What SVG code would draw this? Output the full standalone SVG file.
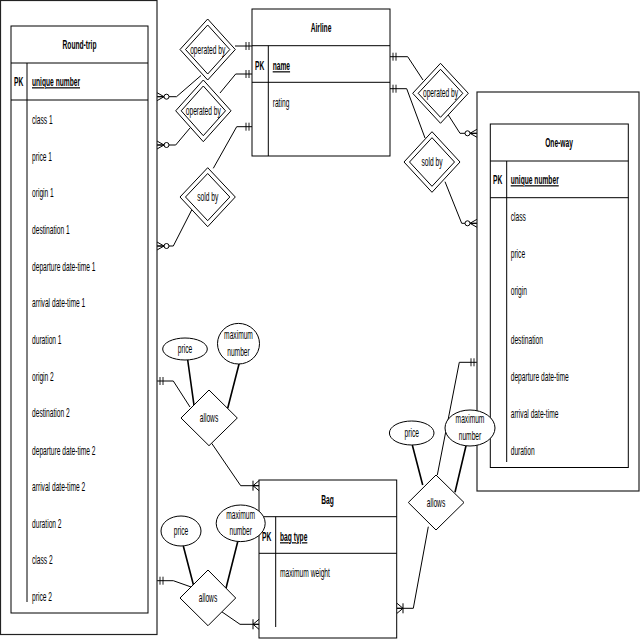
<svg xmlns="http://www.w3.org/2000/svg" width="640" height="640" viewBox="0 0 640 640">
<style>
.box{fill:none;stroke:#000;stroke-width:1}
.outer{fill:none;stroke:#222;stroke-width:1.2}
.ln{fill:none;stroke:#000;stroke-width:1}
.att{fill:none;stroke:#000;stroke-width:1.6}
.dia{fill:#fff;stroke:#000;stroke-width:1}
.ell{fill:#fff;stroke:#000;stroke-width:1}
text{font-family:"Liberation Sans",Arial,sans-serif;font-size:12px;fill:#000}
.b{font-weight:bold}
.u{font-weight:bold;text-decoration:underline}
.m{text-anchor:middle}
</style>
<defs>
<marker id="mandOne" markerUnits="userSpaceOnUse" markerWidth="22" markerHeight="14" refX="20" refY="7" orient="auto" overflow="visible">
<path d="M14,3V11M17,3V11" fill="none" stroke="#000" stroke-width="0.9"/>
</marker>
<marker id="zeroMany" markerUnits="userSpaceOnUse" markerWidth="22" markerHeight="14" refX="20" refY="7" orient="auto" overflow="visible">
<path d="M13,7H20M20,3L13,7L20,11" fill="none" stroke="#000" stroke-width="1"/>
<circle cx="10.5" cy="7" r="2.5" fill="#fff" stroke="#000" stroke-width="1"/>
</marker>
<marker id="oneMany" markerUnits="userSpaceOnUse" markerWidth="22" markerHeight="14" refX="20" refY="7" orient="auto" overflow="visible">
<path d="M14,2V12M14,7L20,2M14,7L20,12M14,7H20" fill="none" stroke="#000" stroke-width="1"/>
</marker>
</defs>
<rect width="640" height="640" fill="#fff"/>

<g id="connectors">
<path class="ln" d="M201,75.5L176.5,96.7H157" marker-end="url(#zeroMany)"/>
<path class="ln" d="M235,46H252" marker-end="url(#mandOne)"/>
<path class="ln" d="M190,128L175.7,145H157" marker-end="url(#zeroMany)"/>
<path class="ln" d="M220,93L235.7,74H252" marker-end="url(#mandOne)"/>
<path class="ln" d="M191.7,210L173.3,246H157" marker-end="url(#zeroMany)"/>
<path class="ln" d="M213.3,168.3L236.7,126.7H252" marker-end="url(#mandOne)"/>
<path class="ln" d="M423,80L407.7,56.7H390" marker-end="url(#mandOne)"/>
<path class="ln" d="M448.3,115L460,133.3H477" marker-end="url(#zeroMany)"/>
<path class="ln" d="M425,138L406.7,88.7H390" marker-end="url(#mandOne)"/>
<path class="ln" d="M445,181.7L461.7,223.3H477" marker-end="url(#zeroMany)"/>
<path class="ln" d="M190,407L173.3,381H157" marker-end="url(#mandOne)"/>
<path class="ln" d="M211.7,443.3L240.7,485.7H259" marker-end="url(#oneMany)"/>
<path class="ln" d="M194,588L173.3,580.7H157" marker-end="url(#mandOne)"/>
<path class="ln" d="M221.7,611.7L240,624.3H259" marker-end="url(#oneMany)"/>
<path class="ln" d="M437.3,475L459.3,362.3H477" marker-end="url(#mandOne)"/>
<path class="ln" d="M428.3,526.7L413.3,608.3H397" marker-end="url(#oneMany)"/>
<path class="att" d="M187.7,360L194.3,407.3M239.3,363L227.7,408.3"/>
<path class="att" d="M183.3,546L194.3,588.3M237.7,541.7L226,588.3"/>
<path class="att" d="M412.3,445L422.7,485M466,445.7L455,492.3"/>
</g>

<g id="round-trip">
<rect class="outer" x="0.5" y="0.5" width="156.5" height="634"/>
<rect class="box" x="11" y="26" width="137" height="587"/>
<path class="box" d="M11,63H148M11,100H148M27,63V602"/>
<text class="b m" transform="translate(79.5 49) scale(.555 1)">Round-trip</text>
<text class="b" transform="translate(14 86) scale(.555 1)">PK</text>
<text class="u" transform="translate(32 86) scale(.555 1)">unique number</text>
<text transform="translate(32 124) scale(.555 1)">class 1</text>
<text transform="translate(32 160.5) scale(.555 1)">price 1</text>
<text transform="translate(32 197) scale(.555 1)">origin 1</text>
<text transform="translate(32 234) scale(.555 1)">destination 1</text>
<text transform="translate(32 271) scale(.555 1)">departure date-time 1</text>
<text transform="translate(32 307) scale(.555 1)">arrival date-time 1</text>
<text transform="translate(32 344) scale(.555 1)">duration 1</text>
<text transform="translate(32 381) scale(.555 1)">origin 2</text>
<text transform="translate(32 417) scale(.555 1)">destination 2</text>
<text transform="translate(32 454.5) scale(.555 1)">departure date-time 2</text>
<text transform="translate(32 491) scale(.555 1)">arrival date-time 2</text>
<text transform="translate(32 527.5) scale(.555 1)">duration 2</text>
<text transform="translate(32 564) scale(.555 1)">class 2</text>
<text transform="translate(32 601) scale(.555 1)">price 2</text>
</g>

<g id="airline">
<rect class="box" x="252" y="9" width="138" height="147"/>
<path class="box" d="M252,45.7H390M252,82.3H390M268.3,45.7V156"/>
<text class="b m" transform="translate(321 32) scale(.555 1)">Airline</text>
<text class="b" transform="translate(255 70) scale(.555 1)">PK</text>
<text class="u" transform="translate(272.7 70) scale(.555 1)">name</text>
<text transform="translate(272.7 107) scale(.555 1)">rating</text>
</g>

<g id="one-way">
<rect class="outer" x="477" y="92" width="162" height="399"/>
<rect class="box" x="490.3" y="124" width="138" height="343.5"/>
<path class="box" d="M490.3,161H628.3M490.3,197.7H628.3M506.7,161V462"/>
<text class="b m" transform="translate(559 147) scale(.555 1)">One-way</text>
<text class="b" transform="translate(493 184) scale(.555 1)">PK</text>
<text class="u" transform="translate(510.7 184) scale(.555 1)">unique number</text>
<text transform="translate(510.7 221) scale(.555 1)">class</text>
<text transform="translate(510.7 257.5) scale(.555 1)">price</text>
<text transform="translate(510.7 295) scale(.555 1)">origin</text>
<text transform="translate(510.7 344) scale(.555 1)">destination</text>
<text transform="translate(510.7 381) scale(.555 1)">departure date-time</text>
<text transform="translate(510.7 418) scale(.555 1)">arrival date-time</text>
<text transform="translate(510.7 455) scale(.555 1)">duration</text>
</g>

<g id="bag">
<rect class="box" x="259" y="480" width="137.7" height="158"/>
<path class="box" d="M259,516.7H396.7M259,553.3H396.7M275.7,516.7V627"/>
<text class="b m" transform="translate(327.5 504) scale(.555 1)">Bag</text>
<text class="b" transform="translate(262 541) scale(.555 1)">PK</text>
<text class="u" transform="translate(280 541) scale(.555 1)">bag type</text>
<text transform="translate(280 577) scale(.555 1)">maximum weight</text>
</g>

<g id="operated-by-1">
<polygon class="dia" points="180,49.5 207.7,19 235.3,49.5 207.7,80"/>
<polygon class="dia" points="185.5,49.5 207.7,25 229.8,49.5 207.7,74"/>
<text class="m" transform="translate(207.7 53.5) scale(.555 1)">operated by</text>
</g>
<g id="operated-by-2">
<polygon class="dia" points="175.7,110.8 203.3,80 231,110.8 203.3,141.7"/>
<polygon class="dia" points="181.2,110.8 203.3,86 225.5,110.8 203.3,135.7"/>
<text class="m" transform="translate(203.3 114.8) scale(.555 1)">operated by</text>
</g>
<g id="sold-by-1">
<polygon class="dia" points="180,197 207.7,167.7 235.3,197 207.7,226.7"/>
<polygon class="dia" points="185.5,197 207.7,173.5 229.8,197 207.7,220.7"/>
<text class="m" transform="translate(207.7 201) scale(.555 1)">sold by</text>
</g>
<g id="operated-by-3">
<polygon class="dia" points="412.7,93.3 440.5,63.3 468.3,93.3 440.5,123.3"/>
<polygon class="dia" points="418.2,93.3 440.5,69.3 462.8,93.3 440.5,117.3"/>
<text class="m" transform="translate(440.5 97.3) scale(.555 1)">operated by</text>
</g>
<g id="sold-by-2">
<polygon class="dia" points="404,162 432,131.7 460,162 432,192.3"/>
<polygon class="dia" points="409.5,162 432,137.7 454.5,162 432,186.3"/>
<text class="m" transform="translate(432 166) scale(.555 1)">sold by</text>
</g>

<g id="allows-1">
<polygon class="dia" points="181,418 209,390 237.3,418 209,445.7"/>
<text class="m" transform="translate(209 422) scale(.555 1)">allows</text>
</g>
<g id="price-1">
<ellipse class="ell" cx="185" cy="349" rx="22.3" ry="11"/>
<text class="m" transform="translate(185 353) scale(.555 1)">price</text>
</g>
<g id="max-number-1">
<ellipse class="ell" cx="238.5" cy="343.7" rx="21" ry="20.3"/>
<text class="m" transform="translate(238.5 339) scale(.555 1)">maximum</text>
<text class="m" transform="translate(238.5 355.5) scale(.555 1)">number</text>
</g>

<g id="allows-2">
<polygon class="dia" points="180,598 208,570 235.7,598 208,625.7"/>
<text class="m" transform="translate(208 602) scale(.555 1)">allows</text>
</g>
<g id="price-2">
<ellipse class="ell" cx="181" cy="531" rx="20" ry="15"/>
<text class="m" transform="translate(181 535) scale(.555 1)">price</text>
</g>
<g id="max-number-2">
<ellipse class="ell" cx="240.7" cy="523.3" rx="24.5" ry="18.3"/>
<text class="m" transform="translate(240.7 518.5) scale(.555 1)">maximum</text>
<text class="m" transform="translate(240.7 535) scale(.555 1)">number</text>
</g>

<g id="allows-3">
<polygon class="dia" points="408.3,502.5 436,475 464,502.5 436,530"/>
<text class="m" transform="translate(436 506.5) scale(.555 1)">allows</text>
</g>
<g id="price-3">
<ellipse class="ell" cx="411.7" cy="433" rx="22.3" ry="12"/>
<text class="m" transform="translate(411.7 437) scale(.555 1)">price</text>
</g>
<g id="max-number-3">
<ellipse class="ell" cx="470" cy="428" rx="25" ry="18"/>
<text class="m" transform="translate(470 423) scale(.555 1)">maximum</text>
<text class="m" transform="translate(470 439.5) scale(.555 1)">number</text>
</g>
</svg>
